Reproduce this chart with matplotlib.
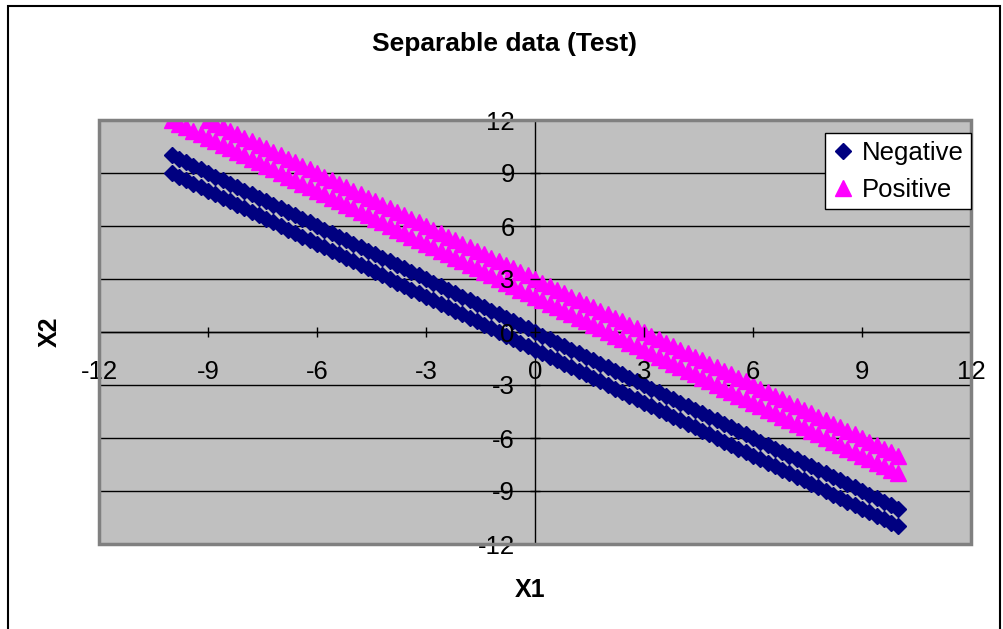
import matplotlib
matplotlib.use("Agg")
from matplotlib import pyplot as plt
from matplotlib.patches import Rectangle

plt.rcParams['font.family'] = ['Liberation Sans', 'DejaVu Sans']
plt.rcParams['axes.unicode_minus'] = False

# Negative class: x1 from -10 to 10
neg_x1 = [
    -10.0, -9.8, -9.6, -9.4, -9.2, -9.0, -8.8, -8.6, -8.4, -8.2,
    -8.0, -7.8, -7.6, -7.4, -7.2, -7.0, -6.8, -6.6, -6.4, -6.2,
    -6.0, -5.8, -5.6, -5.4, -5.2, -5.0, -4.8, -4.6, -4.4, -4.2,
    -4.0, -3.8, -3.6, -3.4, -3.2, -3.0, -2.8, -2.6, -2.4, -2.2,
    -2.0, -1.8, -1.6, -1.4, -1.2, -1.0, -0.8, -0.6, -0.4, -0.2,
    0.0, 0.2, 0.4, 0.6, 0.8, 1.0, 1.2, 1.4, 1.6, 1.8,
    2.0, 2.2, 2.4, 2.6, 2.8, 3.0, 3.2, 3.4, 3.6, 3.8,
    4.0, 4.2, 4.4, 4.6, 4.8, 5.0, 5.2, 5.4, 5.6, 5.8,
    6.0, 6.2, 6.4, 6.6, 6.8, 7.0, 7.2, 7.4, 7.6, 7.8,
    8.0, 8.2, 8.4, 8.6, 8.8, 9.0, 9.2, 9.4, 9.6, 9.8,
    10.0,
]
# upper negative band
neg_x2_a = [
    10.0, 9.8, 9.6, 9.4, 9.2, 9.0, 8.8, 8.6, 8.4, 8.2,
    8.0, 7.8, 7.6, 7.4, 7.2, 7.0, 6.8, 6.6, 6.4, 6.2,
    6.0, 5.8, 5.6, 5.4, 5.2, 5.0, 4.8, 4.6, 4.4, 4.2,
    4.0, 3.8, 3.6, 3.4, 3.2, 3.0, 2.8, 2.6, 2.4, 2.2,
    2.0, 1.8, 1.6, 1.4, 1.2, 1.0, 0.8, 0.6, 0.4, 0.2,
    0.0, -0.2, -0.4, -0.6, -0.8, -1.0, -1.2, -1.4, -1.6, -1.8,
    -2.0, -2.2, -2.4, -2.6, -2.8, -3.0, -3.2, -3.4, -3.6, -3.8,
    -4.0, -4.2, -4.4, -4.6, -4.8, -5.0, -5.2, -5.4, -5.6, -5.8,
    -6.0, -6.2, -6.4, -6.6, -6.8, -7.0, -7.2, -7.4, -7.6, -7.8,
    -8.0, -8.2, -8.4, -8.6, -8.8, -9.0, -9.2, -9.4, -9.6, -9.8,
    -10.0,
]
# lower negative band
neg_x2_b = [
    9.0, 8.8, 8.6, 8.4, 8.2, 8.0, 7.8, 7.6, 7.4, 7.2,
    7.0, 6.8, 6.6, 6.4, 6.2, 6.0, 5.8, 5.6, 5.4, 5.2,
    5.0, 4.8, 4.6, 4.4, 4.2, 4.0, 3.8, 3.6, 3.4, 3.2,
    3.0, 2.8, 2.6, 2.4, 2.2, 2.0, 1.8, 1.6, 1.4, 1.2,
    1.0, 0.8, 0.6, 0.4, 0.2, 0.0, -0.2, -0.4, -0.6, -0.8,
    -1.0, -1.2, -1.4, -1.6, -1.8, -2.0, -2.2, -2.4, -2.6, -2.8,
    -3.0, -3.2, -3.4, -3.6, -3.8, -4.0, -4.2, -4.4, -4.6, -4.8,
    -5.0, -5.2, -5.4, -5.6, -5.8, -6.0, -6.2, -6.4, -6.6, -6.8,
    -7.0, -7.2, -7.4, -7.6, -7.8, -8.0, -8.2, -8.4, -8.6, -8.8,
    -9.0, -9.2, -9.4, -9.6, -9.8, -10.0, -10.2, -10.4, -10.6, -10.8,
    -11.0,
]

# Positive class, lower band: x1 from -10 to 10
pos_x1_a = [
    -10.0, -9.8, -9.6, -9.4, -9.2, -9.0, -8.8, -8.6, -8.4, -8.2,
    -8.0, -7.8, -7.6, -7.4, -7.2, -7.0, -6.8, -6.6, -6.4, -6.2,
    -6.0, -5.8, -5.6, -5.4, -5.2, -5.0, -4.8, -4.6, -4.4, -4.2,
    -4.0, -3.8, -3.6, -3.4, -3.2, -3.0, -2.8, -2.6, -2.4, -2.2,
    -2.0, -1.8, -1.6, -1.4, -1.2, -1.0, -0.8, -0.6, -0.4, -0.2,
    0.0, 0.2, 0.4, 0.6, 0.8, 1.0, 1.2, 1.4, 1.6, 1.8,
    2.0, 2.2, 2.4, 2.6, 2.8, 3.0, 3.2, 3.4, 3.6, 3.8,
    4.0, 4.2, 4.4, 4.6, 4.8, 5.0, 5.2, 5.4, 5.6, 5.8,
    6.0, 6.2, 6.4, 6.6, 6.8, 7.0, 7.2, 7.4, 7.6, 7.8,
    8.0, 8.2, 8.4, 8.6, 8.8, 9.0, 9.2, 9.4, 9.6, 9.8,
    10.0,
]
pos_x2_a = [
    12.0, 11.8, 11.6, 11.4, 11.2, 11.0, 10.8, 10.6, 10.4, 10.2,
    10.0, 9.8, 9.6, 9.4, 9.2, 9.0, 8.8, 8.6, 8.4, 8.2,
    8.0, 7.8, 7.6, 7.4, 7.2, 7.0, 6.8, 6.6, 6.4, 6.2,
    6.0, 5.8, 5.6, 5.4, 5.2, 5.0, 4.8, 4.6, 4.4, 4.2,
    4.0, 3.8, 3.6, 3.4, 3.2, 3.0, 2.8, 2.6, 2.4, 2.2,
    2.0, 1.8, 1.6, 1.4, 1.2, 1.0, 0.8, 0.6, 0.4, 0.2,
    0.0, -0.2, -0.4, -0.6, -0.8, -1.0, -1.2, -1.4, -1.6, -1.8,
    -2.0, -2.2, -2.4, -2.6, -2.8, -3.0, -3.2, -3.4, -3.6, -3.8,
    -4.0, -4.2, -4.4, -4.6, -4.8, -5.0, -5.2, -5.4, -5.6, -5.8,
    -6.0, -6.2, -6.4, -6.6, -6.8, -7.0, -7.2, -7.4, -7.6, -7.8,
    -8.0,
]
# Positive class, upper band: x1 from -9 to 10
pos_x1_b = [
    -9.0, -8.8, -8.6, -8.4, -8.2,
    -8.0, -7.8, -7.6, -7.4, -7.2, -7.0, -6.8, -6.6, -6.4, -6.2,
    -6.0, -5.8, -5.6, -5.4, -5.2, -5.0, -4.8, -4.6, -4.4, -4.2,
    -4.0, -3.8, -3.6, -3.4, -3.2, -3.0, -2.8, -2.6, -2.4, -2.2,
    -2.0, -1.8, -1.6, -1.4, -1.2, -1.0, -0.8, -0.6, -0.4, -0.2,
    0.0, 0.2, 0.4, 0.6, 0.8, 1.0, 1.2, 1.4, 1.6, 1.8,
    2.0, 2.2, 2.4, 2.6, 2.8, 3.0, 3.2, 3.4, 3.6, 3.8,
    4.0, 4.2, 4.4, 4.6, 4.8, 5.0, 5.2, 5.4, 5.6, 5.8,
    6.0, 6.2, 6.4, 6.6, 6.8, 7.0, 7.2, 7.4, 7.6, 7.8,
    8.0, 8.2, 8.4, 8.6, 8.8, 9.0, 9.2, 9.4, 9.6, 9.8,
    10.0,
]
pos_x2_b = [
    12.0, 11.8, 11.6, 11.4, 11.2,
    11.0, 10.8, 10.6, 10.4, 10.2, 10.0, 9.8, 9.6, 9.4, 9.2,
    9.0, 8.8, 8.6, 8.4, 8.2, 8.0, 7.8, 7.6, 7.4, 7.2,
    7.0, 6.8, 6.6, 6.4, 6.2, 6.0, 5.8, 5.6, 5.4, 5.2,
    5.0, 4.8, 4.6, 4.4, 4.2, 4.0, 3.8, 3.6, 3.4, 3.2,
    3.0, 2.8, 2.6, 2.4, 2.2, 2.0, 1.8, 1.6, 1.4, 1.2,
    1.0, 0.8, 0.6, 0.4, 0.2, 0.0, -0.2, -0.4, -0.6, -0.8,
    -1.0, -1.2, -1.4, -1.6, -1.8, -2.0, -2.2, -2.4, -2.6, -2.8,
    -3.0, -3.2, -3.4, -3.6, -3.8, -4.0, -4.2, -4.4, -4.6, -4.8,
    -5.0, -5.2, -5.4, -5.6, -5.8, -6.0, -6.2, -6.4, -6.6, -6.8,
    -7.0,
]

ticks = [-12, -9, -6, -3, 0, 3, 6, 9, 12]

NAVY = '#000080'
MAGENTA = '#FF00FF'

fig = plt.figure(figsize=(10.04, 6.29), dpi=100)
# chart area border
fig.patches.append(Rectangle((8 / 1004, -0.1), 992 / 1004, 1.1 - 6 / 629,
                             transform=fig.transFigure, fill=False,
                             edgecolor='black', linewidth=1.5))

ax = fig.add_axes([99 / 1004, 1 - 544 / 629, 872 / 1004, 424 / 629])
ax.set_facecolor('#C0C0C0')
ax.set_xlim(-12, 12)
ax.set_ylim(-12, 12)
ax.set_xticks(ticks)
ax.set_yticks(ticks)

# horizontal gridlines under the markers
for t in ticks:
    ax.axhline(t, color='black', linewidth=1, zorder=0.6)

for side in ['top', 'right']:
    ax.spines[side].set_visible(False)
ax.spines['left'].set_position(('data', 0))
ax.spines['bottom'].set_position(('data', 0))
ax.spines['left'].set_zorder(0.7)
ax.spines['bottom'].set_zorder(0.7)
ax.spines['left'].set_linewidth(1)
ax.spines['bottom'].set_linewidth(1)
# tick labels sit on top of the markers
ax.xaxis.set_zorder(2.5)
ax.yaxis.set_zorder(2.5)

# plot area frame
ax.add_patch(Rectangle((0, 0), 1, 1, transform=ax.transAxes, fill=False,
                       edgecolor='#808080', linewidth=2.5, zorder=3,
                       clip_on=False))

ax.tick_params(axis='both', direction='inout', length=7, width=1,
               labelsize=18.5, colors='black')
ax.tick_params(axis='x', pad=17)
ax.tick_params(axis='y', pad=11)

ax.plot(neg_x1, neg_x2_a, linestyle='none', marker='D', markersize=8.5,
        color=NAVY, label='Negative', zorder=2)
ax.plot(neg_x1, neg_x2_b, linestyle='none', marker='D', markersize=8.5,
        color=NAVY, zorder=2)
ax.plot(pos_x1_a, pos_x2_a, linestyle='none', marker='^', markersize=11,
        color=MAGENTA, label='Positive', zorder=2)
ax.plot(pos_x1_b, pos_x2_b, linestyle='none', marker='^', markersize=11,
        color=MAGENTA, zorder=2)

leg = ax.legend(loc='upper right', bbox_to_anchor=(1.0, 1 - 13 / 424),
                borderaxespad=0, fontsize=18.5, frameon=True, fancybox=False,
                edgecolor='black', framealpha=1, handlelength=0.8,
                handletextpad=0.3, borderpad=0.3, labelspacing=0.5)
leg.get_frame().set_linewidth(1)
leg.set_zorder(4)

fig.text(505 / 1004, 1 - 44 / 629, 'Separable data (Test)', ha='center',
         va='center', fontsize=19, fontweight='bold')
fig.text(530 / 1004, 1 - 590 / 629, 'X1', ha='center', va='center',
         fontsize=18, fontweight='bold')
fig.text(50 / 1004, 1 - 332 / 629, 'X2', ha='center', va='center',
         fontsize=18, fontweight='bold', rotation=90)

fig.savefig('out.png', dpi=100)
